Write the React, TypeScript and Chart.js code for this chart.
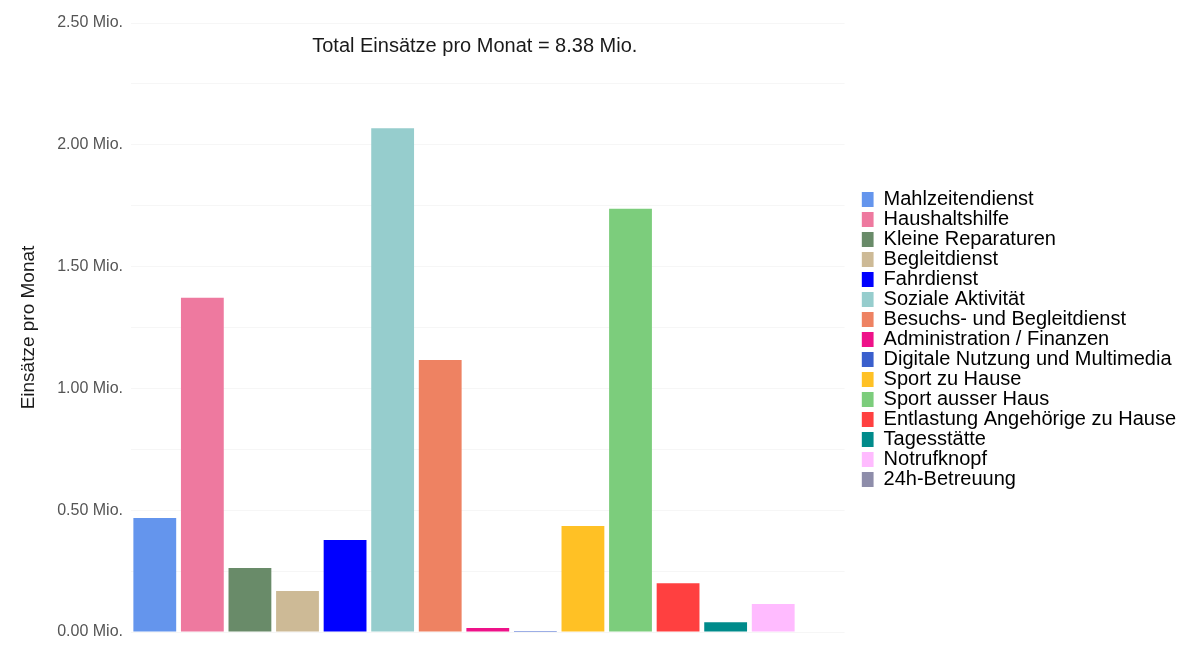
import React, { useEffect, useRef } from "react";
import { Chart, registerables } from "chart.js";

Chart.register(...registerables);

const categories = [
  "Mahlzeitendienst",
  "Haushaltshilfe",
  "Kleine Reparaturen",
  "Begleitdienst",
  "Fahrdienst",
  "Soziale Aktivität",
  "Besuchs- und Begleitdienst",
  "Administration / Finanzen",
  "Digitale Nutzung und Multimedia",
  "Sport zu Hause",
  "Sport ausser Haus",
  "Entlastung Angehörige zu Hause",
  "Tagesstätte",
  "Notrufknopf",
  "24h-Betreuung",
];

// Einsätze pro Monat, in Mio.
const values = [
  0.468, 1.372, 0.263, 0.168, 0.378, 2.068, 1.117, 0.016, 0.004, 0.435, 1.737, 0.2, 0.04, 0.115, 0.002,
];

const colors = [
  "#6495ED",
  "#EE799F",
  "#698B69",
  "#CDBA96",
  "#0000FF",
  "#96CDCD",
  "#EE8262",
  "#EE1289",
  "#3A5FCD",
  "#FFC125",
  "#7CCD7C",
  "#FF4040",
  "#008B8B",
  "#FFBBFF",
  "#8E8DAA",
];

const yMin = 0;
const yMax = 2.5;
const yLabelStep = 0.5;
const yGridStep = 0.25;
const unit = "Mio.";
const yTitle = "Einsätze pro Monat";
const titlePrefix = "Total Einsätze pro Monat = ";

const FONT = '"Liberation Sans", Arial, Helvetica, sans-serif';

export default function App() {
  const canvasRef = useRef<HTMLCanvasElement | null>(null);

  useEffect(() => {
    if (!canvasRef.current) return;
    Chart.defaults.font.family = FONT;
    const total = values.reduce((a, b) => a + b, 0);
    const titleText = `${titlePrefix}${total.toFixed(2)} ${unit}`;

    const insideTitle = {
      id: "insideTitle",
      afterDraw(chart: any) {
        const { ctx, chartArea } = chart;
        ctx.save();
        ctx.font = `20px ${FONT}`;
        ctx.fillStyle = "#1a1a1a";
        ctx.textAlign = "center";
        ctx.textBaseline = "middle";
        ctx.fillText(titleText, (chartArea.left + chartArea.right) / 2 - 13, chartArea.top + 23);
        ctx.restore();
      },
    };

    const legendShift = {
      id: "legendShift",
      afterInit(chart: any) {
        const lg = chart.legend;
        if (!lg) return;
        const orig = lg.fit.bind(lg);
        lg.fit = function () {
          orig();
          this.width += 22;
        };
      },
      afterLayout(chart: any) {
        const lg = chart.legend;
        if (!lg) return;
        lg.left += 17;
        lg.right += 17;
        lg.top += 12;
        lg.bottom += 12;
      },
    };

    const chart = new Chart(canvasRef.current, {
      type: "bar",
      data: {
        labels: categories,
        datasets: [
          {
            data: values,
            backgroundColor: colors,
            borderWidth: 0,
            barPercentage: 0.9,
            categoryPercentage: 1.0,
          },
        ],
      },
      options: {
        animation: false,
        responsive: true,
        maintainAspectRatio: false,
        layout: { padding: { top: 23, bottom: 18, left: 0, right: 0 } },
        plugins: {
          tooltip: { enabled: false },
          title: { display: false },
          legend: {
            display: true,
            position: "right",
            align: "center",
            maxWidth: 500,
            labels: {
              boxWidth: 12,
              boxHeight: 15,
              padding: 0,
              color: "#000000",
              font: { size: 20, family: FONT },
              generateLabels: () =>
                categories.map((c, i) => ({
                  text: c,
                  fillStyle: colors[i],
                  strokeStyle: colors[i],
                  lineWidth: 0,
                  hidden: false,
                  index: i,
                  datasetIndex: 0,
                })),
            },
          },
        },
        scales: {
          x: {
            display: false,
            grid: { display: false },
          },
          y: {
            min: yMin,
            max: yMax,
            border: { display: false },
            grid: { color: "#f6f6f6", drawTicks: false, lineWidth: 1 },
            ticks: {
              stepSize: yGridStep,
              padding: 8,
              color: "#555555",
              font: { size: 16, family: FONT },
              callback: (v: any) => {
                const n = Number(v);
                const r = n / yLabelStep;
                if (Math.abs(r - Math.round(r)) > 1e-9) return "";
                return `${n.toFixed(2)} ${unit}`;
              },
            },
            title: {
              display: true,
              text: yTitle,
              color: "#1a1a1a",
              font: { size: 19, family: FONT },
              padding: { top: 17, bottom: 0 },
            },
            afterFit: (s: any) => {
              s.width = 131;
            },
          },
        },
      },
      plugins: [insideTitle, legendShift],
    });

    return () => chart.destroy();
  }, []);

  return (
    <div style={{ position: "absolute", left: 0, top: 0, width: 1191, height: 650, background: "#ffffff" }}>
      <canvas ref={canvasRef} />
    </div>
  );
}
